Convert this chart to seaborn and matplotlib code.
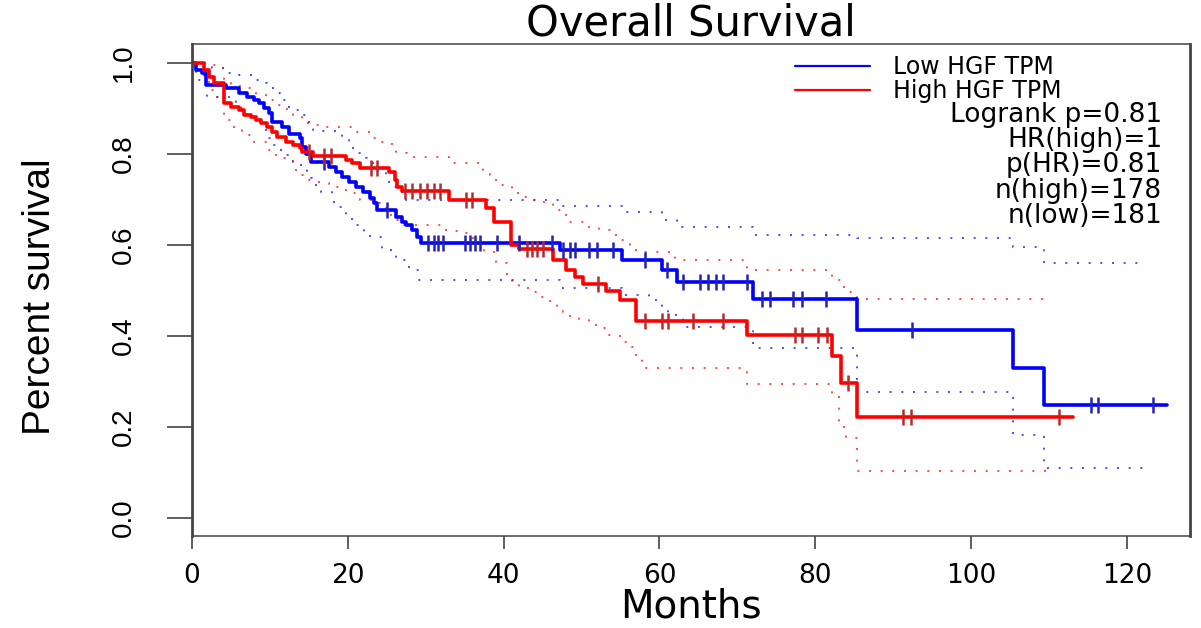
#!/usr/bin/env python3
"""Kaplan-Meier overall survival plot, low vs high HGF TPM."""

import matplotlib
matplotlib.use("Agg")
import matplotlib.pyplot as plt
from matplotlib.lines import Line2D
import numpy as np
import seaborn as sns

# Low HGF TPM (blue) survival steps: value holds from each time onward
low_t = [0, 0.5, 1.3, 1.8, 4.4, 6.0, 7.1, 8.0, 8.6, 9.3, 9.9, 10.3, 11.6, 12.5, 13.8,
         14.1, 14.6, 15.3, 17.6, 18.5, 19.3, 20.2, 21.1, 21.9, 22.8, 23.4, 23.8, 26.2,
         26.9, 27.5, 28.3, 28.9, 29.4, 47.2, 55.2, 60.3, 62.2, 72.0, 85.3, 105.4, 109.4, 125.2]
low_s = [1.0, 0.985, 0.978, 0.952, 0.945, 0.934, 0.925, 0.919, 0.912, 0.901, 0.89, 0.87,
         0.859, 0.845, 0.835, 0.815, 0.8, 0.782, 0.771, 0.76, 0.75, 0.738, 0.727, 0.716,
         0.703, 0.692, 0.677, 0.662, 0.65, 0.644, 0.633, 0.618, 0.605, 0.589, 0.567, 0.545,
         0.519, 0.481, 0.413, 0.33, 0.248, 0.248]
low_censor = [17.0, 25.0, 30.3, 31.0, 31.6, 32.2, 35.0, 35.7, 36.3, 37.0, 39.1, 42.0, 46.2,
              47.6, 48.5, 49.1, 51.0, 52.0, 54.0, 58.2, 61.0, 63.0, 65.2, 66.2, 67.2, 68.1,
              71.2, 73.1, 74.2, 77.1, 78.3, 81.4, 92.4, 115.4, 116.3, 123.4]

low_up_t = [0, 2.6, 4.4, 6.0, 7.7, 8.9, 9.6, 10.5, 11.4, 12.2, 13.4, 14.1, 14.8, 15.5, 19.2,
            20.2, 21.1, 21.9, 22.5, 23.6, 24.9, 25.3, 26.2, 27.5, 47.2, 55.2, 60.3, 62.2,
            72.0, 85.3, 105.4, 109.4, 122.6]
low_up_s = [1.0, 0.99, 0.978, 0.974, 0.963, 0.956, 0.945, 0.934, 0.919, 0.903, 0.897, 0.886,
            0.87, 0.85, 0.831, 0.813, 0.802, 0.791, 0.78, 0.765, 0.743, 0.727, 0.716, 0.70,
            0.685, 0.672, 0.655, 0.64, 0.622, 0.615, 0.596, 0.56, 0.56]
low_lo_t = [0, 0.5, 1.9, 5.7, 7.0, 8.2, 9.0, 9.9, 10.3, 11.2, 12.1, 12.9, 14.0, 14.8, 15.4,
            16.6, 18.0, 18.9, 19.8, 20.6, 21.5, 22.1, 22.8, 24.4, 26.2, 27.9, 29.2, 47.2,
            55.2, 58.7, 60.3, 61.1, 63.0, 72.0, 85.3, 105.4, 109.4, 122.1]
low_lo_s = [1.0, 0.963, 0.925, 0.901, 0.885, 0.868, 0.853, 0.835, 0.82, 0.809, 0.798, 0.782,
            0.771, 0.747, 0.732, 0.716, 0.694, 0.684, 0.659, 0.644, 0.637, 0.626, 0.618,
            0.589, 0.567, 0.545, 0.523, 0.505, 0.49, 0.479, 0.457, 0.446, 0.42, 0.374, 0.277,
            0.183, 0.11, 0.11]

# High HGF TPM (red)
high_t = [0, 1.5, 2.2, 2.8, 4.1, 5.0, 6.0, 6.7, 7.6, 8.2, 8.9, 9.6, 10.3, 10.9, 12.1, 12.9,
          13.8, 14.1, 15.5, 19.8, 20.6, 21.5, 25.3, 26.0, 26.3, 27.0, 33.0, 37.8, 38.8, 41.0,
          42.0, 46.3, 48.0, 49.1, 50.2, 53.2, 55.0, 57.0, 71.2, 82.2, 83.3, 85.3, 113.1]
high_s = [1.0, 0.985, 0.969, 0.955, 0.912, 0.903, 0.897, 0.886, 0.881, 0.875, 0.868, 0.859,
          0.848, 0.837, 0.826, 0.82, 0.813, 0.804, 0.795, 0.787, 0.78, 0.769, 0.76, 0.743,
          0.727, 0.718, 0.70, 0.681, 0.65, 0.60, 0.592, 0.568, 0.545, 0.53, 0.515, 0.499,
          0.479, 0.433, 0.402, 0.356, 0.297, 0.222, 0.222]
high_censor = [15.0, 17.0, 17.9, 23.0, 23.8, 27.3, 28.3, 29.3, 30.2, 31.0, 31.8, 35.2, 36.0,
               43.0, 43.7, 44.3, 45.0, 52.1, 58.1, 60.3, 61.1, 64.3, 68.1, 77.4, 78.3, 80.3,
               81.5, 84.2, 91.3, 92.3, 111.3]

high_up_t = [0, 1.5, 3.5, 4.1, 5.0, 6.7, 7.5, 8.2, 9.5, 10.9, 12.2, 13.0, 14.1, 15.9, 17.2,
             20.6, 22.8, 24.4, 25.7, 26.2, 27.6, 33.0, 37.3, 38.2, 39.0, 40.4, 41.1, 41.8,
             42.9, 44.2, 46.3, 48.0, 50.6, 52.3, 53.6, 54.9, 56.2, 57.0, 62.0, 71.2, 82.2,
             83.3, 84.0, 85.3, 110.2]
high_up_s = [1.0, 0.996, 0.989, 0.96, 0.95, 0.945, 0.935, 0.93, 0.919, 0.908, 0.897, 0.886,
             0.868, 0.864, 0.859, 0.848, 0.835, 0.826, 0.815, 0.802, 0.793, 0.78, 0.76, 0.754,
             0.732, 0.727, 0.716, 0.705, 0.70, 0.694, 0.677, 0.65, 0.64, 0.633, 0.622, 0.611,
             0.60, 0.585, 0.567, 0.545, 0.523, 0.508, 0.497, 0.481, 0.481]
high_lo_t = [0, 1.5, 2.2, 2.8, 4.1, 5.0, 6.4, 8.0, 9.5, 10.5, 11.4, 12.9, 13.8, 14.6, 16.3,
             17.6, 19.2, 20.2, 21.5, 23.1, 24.7, 25.3, 26.2, 27.2, 32.6, 34.0, 35.6, 36.9,
             37.5, 39.0, 40.4, 41.1, 42.0, 43.3, 44.6, 45.9, 46.8, 47.6, 48.5, 49.7, 51.0,
             52.3, 53.3, 54.9, 56.2, 57.0, 57.8, 71.2, 82.2, 83.0, 84.0, 85.3, 110.5]
high_lo_s = [1.0, 0.96, 0.94, 0.925, 0.875, 0.859, 0.842, 0.826, 0.809, 0.798, 0.791, 0.765,
             0.754, 0.743, 0.736, 0.727, 0.72, 0.714, 0.699, 0.692, 0.681, 0.666, 0.655,
             0.644, 0.63, 0.626, 0.615, 0.596, 0.585, 0.56, 0.53, 0.519, 0.506, 0.497, 0.486,
             0.475, 0.464, 0.453, 0.442, 0.435, 0.424, 0.418, 0.402, 0.387, 0.376, 0.352,
             0.33, 0.294, 0.27, 0.2, 0.175, 0.103, 0.103]

group_labels = ["Low HGF TPM", "High HGF TPM"]
stats_lines = ["Logrank p=0.81", "HR(high)=1", "p(HR)=0.81", "n(high)=178", "n(low)=181"]
x_ticks = [0, 20, 40, 60, 80, 100, 120]
y_ticks = [0.0, 0.2, 0.4, 0.6, 0.8, 1.0]

BLUE = "#0000ff"
RED = "#ff0000"
VERT_FONT = ["Liberation Sans", "DejaVu Sans"]


def step_value(t_steps, s_steps, t):
    idx = np.searchsorted(t_steps, t, side="right") - 1
    return np.asarray(s_steps)[idx]


sns.set_theme(style="ticks")
plt.rcParams["font.family"] = ["DejaVu Sans"]
plt.rcParams["text.color"] = "black"
plt.rcParams["axes.labelcolor"] = "black"

fig = plt.figure(figsize=(12.01, 6.28), dpi=100)
ax = fig.add_axes([192 / 1201, 1 - 536 / 628, 998 / 1201, 492 / 628])

# confidence bands (dotted)
for t, s, c in [(low_up_t, low_up_s, BLUE), (low_lo_t, low_lo_s, BLUE),
                (high_up_t, high_up_s, RED), (high_lo_t, high_lo_s, RED)]:
    sns.lineplot(x=t, y=s, ax=ax, color=c, lw=1.4, alpha=0.7, linestyle=(0, (1, 5)),
                 drawstyle="steps-post", estimator=None, sort=False, legend=False)

# survival curves
sns.lineplot(x=low_t, y=low_s, ax=ax, color=BLUE, lw=2.6, drawstyle="steps-post",
             estimator=None, sort=False, legend=False)
sns.lineplot(x=high_t, y=high_s, ax=ax, color=RED, lw=2.6, drawstyle="steps-post",
             estimator=None, sort=False, legend=False)

# censor marks
ax.plot(low_censor, step_value(low_t, low_s, low_censor), linestyle="none", marker="|",
        markersize=11, markeredgewidth=1.8, color="#2323b0")
ax.plot(high_censor, step_value(high_t, high_s, high_censor), linestyle="none", marker="|",
        markersize=11, markeredgewidth=1.8, color="#b82a2a")

ax.set_xlim(0, 128.1)
ax.set_ylim(-0.0396, 1.0418)
ax.set_xticks(x_ticks)
ax.set_xticklabels([str(v) for v in x_ticks], fontsize=19)
ax.set_yticks(y_ticks)
ax.set_yticklabels([f"{v:.1f}" for v in y_ticks], fontsize=20, family=VERT_FONT,
                   rotation=90, va="center")
ax.tick_params(axis="x", length=9.4, width=1.1, pad=10, colors="#333333", labelcolor="black")
ax.tick_params(axis="y", length=18, width=1.1, pad=22, colors="#333333", labelcolor="black")

for side in ["left", "right"]:
    ax.spines[side].set_linewidth(2.0)
    ax.spines[side].set_color("#444444")
for side in ["top", "bottom"]:
    ax.spines[side].set_linewidth(1.1)
    ax.spines[side].set_color("#444444")

ax.set_title("Overall Survival", fontsize=30, pad=3, color="black")
ax.set_xlabel("Months", fontsize=28)
ax.xaxis.set_label_coords(0.5, -0.144)
ax.xaxis.label.set_va("center")
ax.set_ylabel("Percent survival", fontsize=28, family=VERT_FONT)
ax.yaxis.set_label_coords(-0.152, 0.486)
ax.yaxis.label.set_va("center")

handles = [Line2D([], [], color=BLUE, lw=1.6), Line2D([], [], color=RED, lw=1.6)]
ax.legend(handles, group_labels, loc="upper left", bbox_to_anchor=(0.604, 0.977),
          frameon=False, fontsize=17, handlelength=3.2, handletextpad=0.95,
          labelspacing=0.0, borderpad=0, borderaxespad=0, labelcolor="black")

for i, line in enumerate(stats_lines):
    ax.text(0.972, 0.856 - i * 0.0513, line, transform=ax.transAxes, ha="right",
            va="center", fontsize=19)

fig.savefig("out.png", dpi=100)
